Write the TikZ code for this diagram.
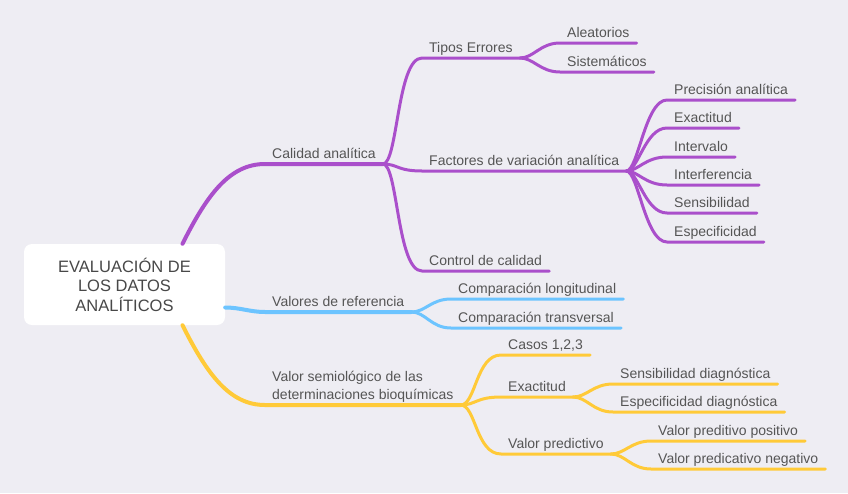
\documentclass[tikz,border=0pt]{standalone}
\usepackage{fontspec}
\setmainfont{Liberation Sans}
\usetikzlibrary{calc}
\definecolor{paper}{HTML}{EEEDF3}
\definecolor{plum}{HTML}{AA4FCB}
\definecolor{sky}{HTML}{6CC4FF}
\definecolor{honey}{HTML}{FFCA38}
\definecolor{ink}{HTML}{555555}

\begin{document}
\begin{tikzpicture}[
  x=1pt, y=-1pt,
  rootbox/.style={fill=white, rounded corners=8pt, minimum width=201pt, minimum height=81pt, align=center, text=ink!85!black, font=\fontsize{16.5}{19.5}\selectfont},
  topic/.style={anchor=south west, inner xsep=7pt, inner ysep=2.5pt, text height=10pt, text depth=3pt, text=ink, font=\fontsize{14}{18}\selectfont},
  trunk/.style={line width=4pt, line cap=round},
  twig/.style={line width=3pt, line cap=round}
]
\fill[paper] (0,0) rectangle (848,493);

\node[rootbox] (eval) at (124.5,284.5) {EVALUACIÓN DE\\LOS DATOS\\ANALÍTICOS};

% first level
\node[topic] (calidad) at (265,164) {Calidad analítica};
\node[topic] (valref) at (265,312) {Valores de referencia};
\node[topic, align=left, text height={}, text depth={}] (semio) at (265,405) {Valor semiológico de las\\determinaciones bioquímicas};

% calidad analitica
\node[topic] (tipos) at (422,58) {Tipos Errores};
\node[topic] (aleat) at (560,43) {Aleatorios};
\node[topic] (sistem) at (560,72) {Sistemáticos};
\node[topic] (factores) at (422,171) {Factores de variación analítica};
\node[topic] (precis) at (667,100) {Precisión analítica};
\node[topic] (exact) at (667,128) {Exactitud};
\node[topic] (interv) at (667,157) {Intervalo};
\node[topic] (interf) at (667,185) {Interferencia};
\node[topic] (sensib) at (667,213) {Sensibilidad};
\node[topic] (especif) at (667,242) {Especificidad};
\node[topic] (control) at (422,271) {Control de calidad};

% valores de referencia
\node[topic] (complong) at (451,299) {Comparación longitudinal};
\node[topic] (comptrans) at (451,328) {Comparación transversal};

% valor semiologico
\node[topic] (casos) at (501,355) {Casos 1,2,3};
\node[topic] (exactd) at (501,397) {Exactitud};
\node[topic] (sensd) at (613,384) {Sensibilidad diagnóstica};
\node[topic] (especd) at (613,412) {Especificidad diagnóstica};
\node[topic] (predict) at (501,454) {Valor predictivo};
\node[topic] (predpos) at (651,441) {Valor preditivo positivo};
\node[topic] (predneg) at (651,469) {Valor predicativo negativo};

\draw[trunk, plum] ([xshift=58pt]eval.north) .. controls +(25,-50) and +(-35,0) .. (calidad.south west) -- (calidad.south east);
\draw[trunk, sky] ([yshift=-23pt]eval.east) .. controls +(15,0) and +(-15,0) .. (valref.south west) -- (valref.south east);
\draw[trunk, honey] ([xshift=58pt]eval.south) .. controls +(25,50) and +(-35,0) .. (semio.south west) -- (semio.south east);

\draw[twig, plum] (calidad.south east) .. controls +(15,0) and +(-25,0) .. (tipos.south west) -- (tipos.south east);
\draw[twig, plum] (calidad.south east) .. controls +(15,0) and +(-25,0) .. (factores.south west) -- (factores.south east);
\draw[twig, plum] (calidad.south east) .. controls +(15,0) and +(-25,0) .. (control.south west) -- (control.south east);
\draw[twig, plum] (tipos.south east) .. controls +(14,0) and +(-20,0) .. (aleat.south west) -- (aleat.south east);
\draw[twig, plum] (tipos.south east) .. controls +(14,0) and +(-20,0) .. (sistem.south west) -- (sistem.south east);
\draw[twig, plum] (factores.south east) .. controls +(12,0) and +(-22,0) .. (precis.south west) -- (precis.south east);
\draw[twig, plum] (factores.south east) .. controls +(12,0) and +(-22,0) .. (exact.south west) -- (exact.south east);
\draw[twig, plum] (factores.south east) .. controls +(12,0) and +(-22,0) .. (interv.south west) -- (interv.south east);
\draw[twig, plum] (factores.south east) .. controls +(12,0) and +(-22,0) .. (interf.south west) -- (interf.south east);
\draw[twig, plum] (factores.south east) .. controls +(12,0) and +(-22,0) .. (sensib.south west) -- (sensib.south east);
\draw[twig, plum] (factores.south east) .. controls +(12,0) and +(-22,0) .. (especif.south west) -- (especif.south east);

\draw[twig, sky] (valref.south east) .. controls +(14,0) and +(-20,0) .. (complong.south west) -- (complong.south east);
\draw[twig, sky] (valref.south east) .. controls +(14,0) and +(-20,0) .. (comptrans.south west) -- (comptrans.south east);

\draw[twig, honey] (semio.south east) .. controls +(15,0) and +(-25,0) .. (casos.south west) -- (casos.south east);
\draw[twig, honey] (semio.south east) .. controls +(15,0) and +(-25,0) .. (exactd.south west) -- (exactd.south east);
\draw[twig, honey] (semio.south east) .. controls +(15,0) and +(-25,0) .. (predict.south west) -- (predict.south east);
\draw[twig, honey] (exactd.south east) .. controls +(14,0) and +(-20,0) .. (sensd.south west) -- (sensd.south east);
\draw[twig, honey] (exactd.south east) .. controls +(14,0) and +(-20,0) .. (especd.south west) -- (especd.south east);
\draw[twig, honey] (predict.south east) .. controls +(14,0) and +(-20,0) .. (predpos.south west) -- (predpos.south east);
\draw[twig, honey] (predict.south east) .. controls +(14,0) and +(-20,0) .. (predneg.south west) -- (predneg.south east);
\end{tikzpicture}
\end{document}
